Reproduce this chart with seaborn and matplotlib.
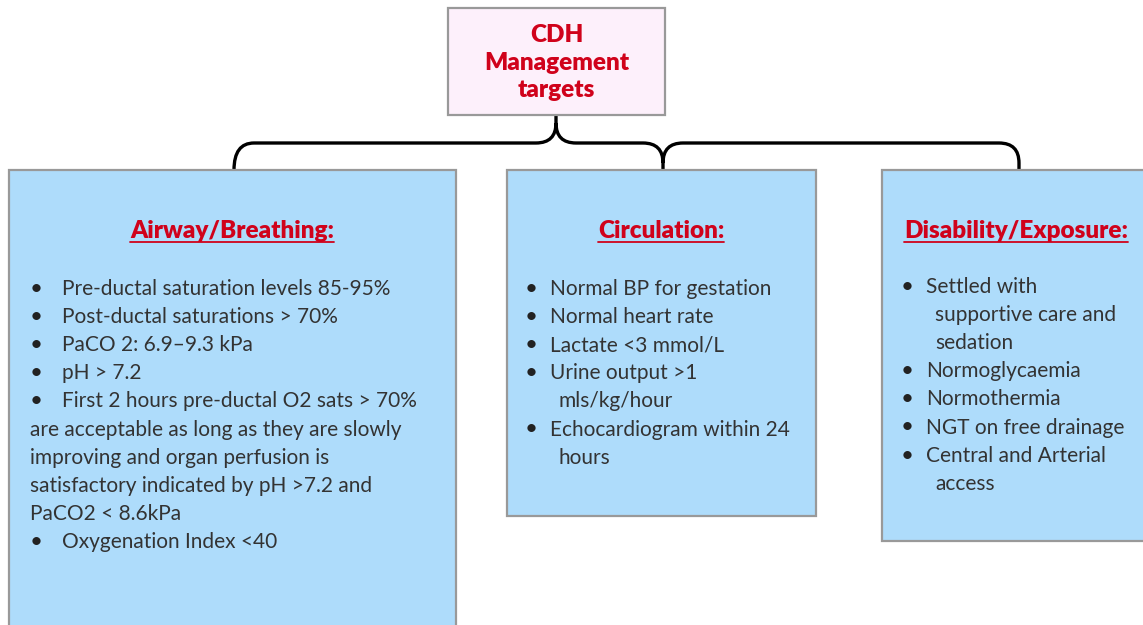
import matplotlib
matplotlib.use("Agg")
import matplotlib.pyplot as plt
import seaborn as sns
from matplotlib.patches import Rectangle, PathPatch
from matplotlib.path import Path

# --- content ---
title_lines = ["CDH", "Management", "targets"]
headers = ["Airway/Breathing:", "Circulation:", "Disability/Exposure:"]

airway_text = [
    "Pre-ductal saturation levels 85-95%",
    "Post-ductal saturations > 70%",
    "PaCO 2: 6.9\u20139.3 kPa",
    "pH > 7.2",
    "First 2 hours pre-ductal O2 sats > 70%",
    "are acceptable as long as they are slowly",
    "improving and organ perfusion is",
    "satisfactory indicated by pH >7.2 and",
    "PaCO2 < 8.6kPa",
    "Oxygenation Index <40",
]
airway_bullet = [1, 1, 1, 1, 1, 0, 0, 0, 0, 1]

circulation_text = [
    "Normal BP for gestation",
    "Normal heart rate",
    "Lactate <3 mmol/L",
    "Urine output >1",
    "mls/kg/hour",
    "Echocardiogram within 24",
    "hours",
]
circulation_bullet = [1, 1, 1, 1, 0, 1, 0]

disability_text = [
    "Settled with",
    "supportive care and",
    "sedation",
    "Normoglycaemia",
    "Normothermia",
    "NGT on free drainage",
    "Central and Arterial",
    "access",
]
disability_bullet = [1, 0, 0, 1, 1, 1, 1, 0]

# --- style ---
sns.set_style("white")
plt.rcParams["font.family"] = ["Lato", "DejaVu Sans"]

RED = "#D0021B"
TXT = "#333333"
BLUE = "#AEDCFB"
PINK = "#FDF0FB"
EDGE = "#999999"
BODY_FS = 15
HEAD_FS = 17.5

W, H = 1143, 625
fig = plt.figure(figsize=(W / 100, H / 100), dpi=100)
ax = fig.add_axes([0, 0, 1, 1])
ax.set_xlim(0, W)
ax.set_ylim(H, 0)
ax.axis("off")

# connector brace (drawn first so boxes sit on top)
yh, r = 143, 20
verts = [
    (234, 170), (234, yh), (234 + r, yh),
    (556 - r, yh), (556, yh), (556, yh - r),
    (556, 115),
    (556, yh - r), (556, yh), (556 + r, yh),
    (663 - r, yh), (663, yh), (663, yh + r),
    (663, 170),
    (663, yh + r), (663, yh), (663 + r, yh),
    (1019 - r, yh), (1019, yh), (1019, yh + r),
    (1019, 170),
]
codes = [Path.MOVETO, Path.CURVE3, Path.CURVE3,
         Path.LINETO, Path.CURVE3, Path.CURVE3,
         Path.LINETO,
         Path.MOVETO, Path.CURVE3, Path.CURVE3,
         Path.LINETO, Path.CURVE3, Path.CURVE3,
         Path.LINETO,
         Path.MOVETO, Path.CURVE3, Path.CURVE3,
         Path.LINETO, Path.CURVE3, Path.CURVE3,
         Path.LINETO]
ax.add_patch(PathPatch(Path(verts, codes), fill=False, lw=2.4,
                       edgecolor="black", capstyle="butt", zorder=1))

# boxes: x0, y0, x1, y1
ax.add_patch(Rectangle((448, 8), 217, 107, facecolor=PINK, edgecolor=EDGE, lw=1.6, zorder=2))
boxes = [(9, 170, 456, 640), (507, 170, 816, 516), (882, 170, 1160, 541)]
for x0, y0, x1, y1 in boxes:
    ax.add_patch(Rectangle((x0, y0), x1 - x0, y1 - y0, facecolor=BLUE,
                           edgecolor=EDGE, lw=1.6, zorder=2))

# title
for i, line in enumerate(title_lines):
    ax.text(556.5, 42 + i * 27.5, line, ha="center", va="baseline",
            fontsize=HEAD_FS, fontweight="heavy", color=RED, zorder=3)

# headers with underline
hdr_x = [232, 661, 1016]
hdr_objs = []
for x, h in zip(hdr_x, headers):
    hdr_objs.append(ax.text(x, 238, h, ha="center", va="baseline", fontsize=HEAD_FS,
                            fontweight="heavy", color=RED, zorder=3))
fig.canvas.draw()
rend = fig.canvas.get_renderer()
inv = ax.transData.inverted()
for t in hdr_objs:
    bb = t.get_window_extent(rend)
    (xa, _), (xb, _) = inv.transform([(bb.x0, bb.y0), (bb.x1, bb.y0)])
    ax.plot([xa, xb], [242, 242], color=RED, lw=1.3, zorder=3)

# bullet lists
lists = [
    (airway_text, airway_bullet, 36, 62, 30, 295),
    (circulation_text, circulation_bullet, 531, 550, 559, 295),
    (disability_text, disability_bullet, 907, 926, 935, 293),
]
for texts, bul, bx, tx, cx, y0 in lists:
    for i, (s, b) in enumerate(zip(texts, bul)):
        y = y0 + i * 28.1
        if b:
            ax.text(bx, y, "\u2022", ha="center", va="baseline", fontsize=BODY_FS + 1,
                    color="#222222", zorder=3)
            ax.text(tx, y, s, ha="left", va="baseline", fontsize=BODY_FS, color=TXT, zorder=3)
        else:
            ax.text(cx, y, s, ha="left", va="baseline", fontsize=BODY_FS, color=TXT, zorder=3)

fig.savefig("out.png", dpi=100)
